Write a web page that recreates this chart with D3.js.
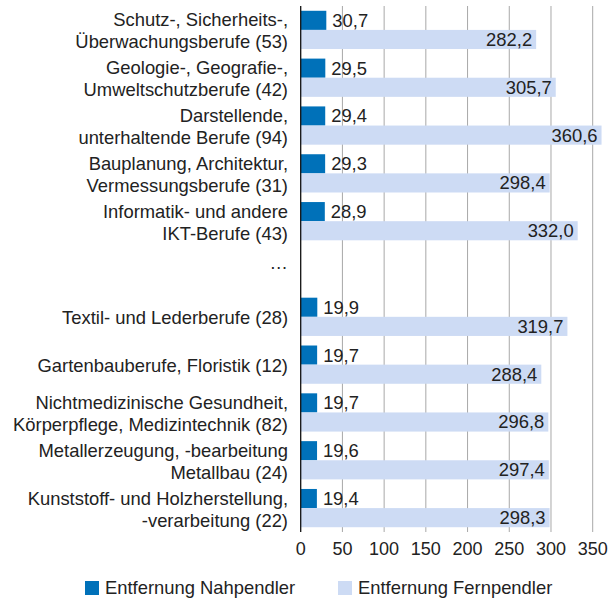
<!DOCTYPE html>
<html><head><meta charset="utf-8">
<script src="https://cdn.jsdelivr.net/npm/d3@7"></script>
<style>body{margin:0;background:#fff;} text{font-family:"Liberation Sans",Arial,Helvetica,sans-serif;}</style>
</head><body>
<svg id="c" width="612" height="599"></svg>
<script>
const categories = [
  ["Schutz-, Sicherheits-,", "Überwachungsberufe (53)"],
  ["Geologie-, Geografie-,", "Umweltschutzberufe (42)"],
  ["Darstellende,", "unterhaltende Berufe (94)"],
  ["Bauplanung, Architektur,", "Vermessungsberufe (31)"],
  ["Informatik- und andere", "IKT-Berufe (43)"],
  ["…"],
  ["Textil- und Lederberufe (28)"],
  ["Gartenbauberufe, Floristik (12)"],
  ["Nichtmedizinische Gesundheit,", "Körperpflege, Medizintechnik (82)"],
  ["Metallerzeugung, -bearbeitung", "Metallbau (24)"],
  ["Kunststoff- und Holzherstellung,", "-verarbeitung (22)"]
];
const nahpendler = [30.7, 29.5, 29.4, 29.3, 28.9, null, 19.9, 19.7, 19.7, 19.6, 19.4];
const fernpendler = [282.2, 305.7, 360.6, 298.4, 332.0, null, 319.7, 288.4, 296.8, 297.4, 298.3];
const xTicks = [0, 50, 100, 150, 200, 250, 300, 350];
const seriesNames = ["Entfernung Nahpendler", "Entfernung Fernpendler"];
const colors = ["#0071b9", "#cddbf4"];

const svg = d3.select("#c");
const x = d3.scaleLinear().domain([0, 350]).range([300.7, 592.7]);
const y = d3.scaleBand().domain(d3.range(categories.length)).range([6, 532]).paddingInner(0.2).paddingOuter(0.1);
const bw = y.bandwidth() / 2;
const fmt = v => d3.format(".1f")(v).replace(".", ",");
const textColor = "#222";
const fs = 18.4;

// gridlines
svg.append("g").selectAll("line").data(xTicks.slice(1)).join("line")
  .attr("x1", d => x(d)).attr("x2", d => x(d)).attr("y1", 6).attr("y2", 532)
  .attr("stroke", "#a8a8a8").attr("stroke-width", 1);

const rows = d3.range(categories.length).filter(i => nahpendler[i] !== null);

svg.append("g").selectAll("rect").data(rows).join("rect")
  .attr("x", x(0)).attr("y", i => y(i)).attr("width", i => x(nahpendler[i]) - x(0)).attr("height", bw)
  .attr("fill", colors[0]);
svg.append("g").selectAll("rect").data(rows).join("rect")
  .attr("x", x(0)).attr("y", i => y(i) + bw).attr("width", i => x(fernpendler[i]) - x(0)).attr("height", bw)
  .attr("fill", colors[1]);

// value labels
svg.append("g").selectAll("text").data(rows).join("text")
  .attr("x", i => x(nahpendler[i]) + 6).attr("y", i => y(i) + bw / 2).attr("dy", "0.35em")
  .attr("font-size", fs).attr("fill", textColor).text(i => fmt(nahpendler[i]));
svg.append("g").selectAll("text").data(rows).join("text")
  .attr("x", i => x(fernpendler[i]) - 4).attr("y", i => y(i) + bw * 1.5).attr("dy", "0.35em")
  .attr("text-anchor", "end").attr("font-size", fs).attr("fill", textColor).text(i => fmt(fernpendler[i]));

// axis line at zero
svg.append("line").attr("x1", x(0)).attr("x2", x(0)).attr("y1", 6).attr("y2", 532)
  .attr("stroke", "#111").attr("stroke-width", 1.3);

// x tick labels
svg.append("g").selectAll("text").data(xTicks).join("text")
  .attr("x", d => x(d)).attr("y", 549).attr("dy", "0.35em").attr("text-anchor", "middle")
  .attr("font-size", 18).attr("fill", textColor).text(d => d);

// category labels
const lh = 22;
categories.forEach((lines, i) => {
  const cy = y(i) + y.bandwidth() / 2 + 1;
  const n = lines.length;
  lines.forEach((l, j) => {
    svg.append("text").attr("x", 288).attr("y", cy + (j - (n - 1) / 2) * lh + (lines[0] === "…" ? -7 : 0))
      .attr("dy", "0.35em").attr("text-anchor", "end").attr("font-size", fs).attr("fill", textColor).text(l);
  });
});

// legend
const legX = [85, 338];
seriesNames.forEach((s, k) => {
  svg.append("rect").attr("x", legX[k]).attr("y", 581).attr("width", 14).attr("height", 14).attr("fill", colors[k]);
  svg.append("text").attr("x", legX[k] + 20).attr("y", 588).attr("dy", "0.35em")
    .attr("font-size", fs).attr("fill", textColor).text(s);
});
</script>
</body></html>
